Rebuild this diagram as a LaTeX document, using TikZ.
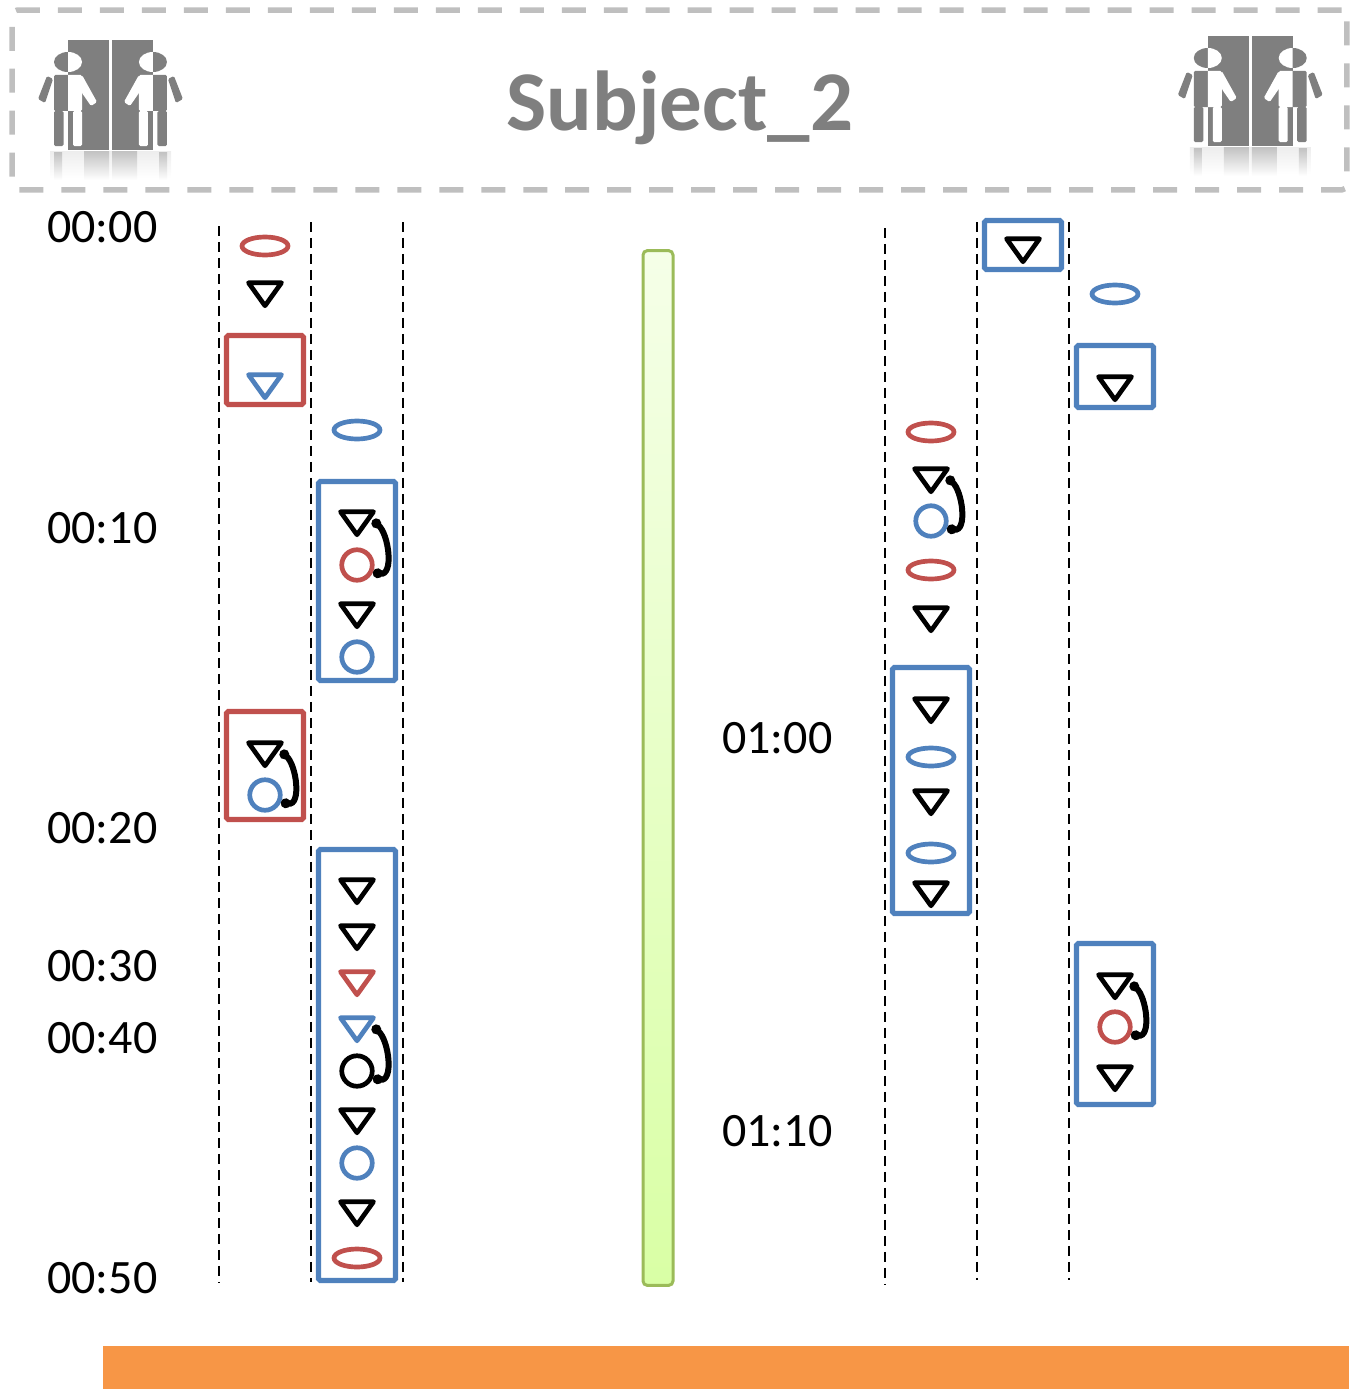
\documentclass[tikz,border=0pt]{standalone}
\usepackage{fontspec}
\setmainfont{Carlito}
\usepackage{tikz}
\usetikzlibrary{shapes.geometric,arrows.meta}
\definecolor{markred}{HTML}{C0504D}
\definecolor{markblue}{HTML}{4F81BD}
\definecolor{iconcolor}{HTML}{7F7F7F}
\definecolor{barorange}{HTML}{F79646}
\definecolor{bargreen}{HTML}{9BBB59}
\def\pxu{0.56906pt}
\tikzset{
         tri/.style=
          {
           shape=isosceles triangle,
           shape border rotate=-90,
           isosceles triangle stretches,
           draw=black,
           line width=4.7*\pxu,
           line join=round,
           inner sep=0pt,
           yshift=1pt,
           minimum width=33*\pxu,
           minimum height=23*\pxu
          },
         ring/.style={circle,draw=black,line width=4.7*\pxu,inner sep=0pt,minimum size=30.5*\pxu},
         oval/.style={ellipse,draw=black,line width=4.7*\pxu,inner sep=0pt,minimum width=46*\pxu,minimum height=18*\pxu},
         redbox/.style={rectangle,draw=markred,line width=5.2*\pxu,rounded corners=1pt,inner sep=0pt},
         bluebox/.style={rectangle,draw=markblue,line width=5.2*\pxu,rounded corners=1pt,inner sep=0pt},
         lane/.style={draw=black,line width=2.7*\pxu,dash pattern=on 10*\pxu off 6*\pxu},
         backloop/.style={draw=black,line width=6*\pxu,{Circle[length=5.5pt]}-{Circle[length=5.5pt]}},
         timelabel/.style={anchor=west,inner sep=0pt,font=\fontsize{27.3pt}{30pt}\selectfont},
         iconglow/.style={top color=black!24,bottom color=white,draw=none},
         iconhaze/.style={top color=black!7,bottom color=white,draw=none}
        }
\newcommand{\figpath}{(68,62) ellipse [x radius=14,y radius=10]
  (54,75) rectangle (82,111) (54,111) rectangle (63.5,146) (73,111) rectangle (82,146)
  (47,76) -- (53,79) -- (45,103) -- (38,99) -- cycle
  (82,75) -- (97,102) -- (91,106) -- (82,93) -- cycle}
\newcommand{\onefigure}{%
  \fill[iconcolor] (68,40) rectangle (109,150);
  \fill[iconcolor,rounded corners=0.8pt] \figpath;
  \begin{scope}
  \clip (68,40) rectangle (109,150);
  \fill[white,rounded corners=0.8pt] \figpath;
  \end{scope}}
\newcommand{\restroom}{%
  \onefigure
  \begin{scope}[xshift=4.42cm,xscale=-1]
  \onefigure
  \end{scope}
  \shade[iconhaze] (50,151) rectangle (171,178);
  \shade[iconglow] (54,152) rectangle (62,180);
  \shade[iconglow] (84,151) rectangle (109,180);
  \shade[iconglow] (112,151) rectangle (137,180);
  \shade[iconglow] (159,152) rectangle (167,180);}

\begin{document}
\begin{tikzpicture}[x=0.02cm,y=-0.02cm]
\useasboundingbox (0,0) rectangle (1349,1389);
\restroom % left icon
\begin{scope}[xshift=22.8cm,yshift=0.08cm]
\restroom % right icon
\end{scope}
\node[draw=black!25,line width=5.5*\pxu,dash pattern=on 24*\pxu off 18*\pxu,rounded corners=3pt,inner sep=0pt,minimum width=1335*\pxu,minimum height=180*\pxu] (header) at (679.5,100) {}; % header box
\node[text=iconcolor,font=\fontsize{48.4pt}{52pt}\selectfont\bfseries] (title) at (680,108) {Subject\_2}; % title
\node[fill=barorange,inner sep=0pt,minimum width=1246*\pxu,minimum height=43*\pxu] (bottombar) at (726,1367.5) {}; % orange bar
\node[draw=bargreen,line width=3*\pxu,top color={rgb,255:red,245;green,255;blue,232},bottom color={rgb,255:red,217;green,255;blue,165},rounded corners=2.5pt,inner sep=0pt,minimum width=30*\pxu,minimum height=1035*\pxu] (centerbar) at (658,768) {}; % green bar
% time labels
\node[timelabel] (t00) at (47,227) {00:00};
\node[timelabel] (t10) at (47,528) {00:10};
\node[timelabel] (t20) at (47,828) {00:20};
\node[timelabel] (t30) at (47,966) {00:30};
\node[timelabel] (t40) at (47,1038) {00:40};
\node[timelabel] (t50) at (47,1278) {00:50};
\node[timelabel] (t60) at (722,738) {01:00};
\node[timelabel] (t70) at (722,1131) {01:10};
% lanes
\foreach \n/\x/\ya/\yb in {a/219/226/1282,b/311/222/1282,c/403/222/1282,d/885/228/1284,e/977/222/1280,f/1069/222/1280}
 {
  \coordinate (top\n) at (\x,\ya);
  \coordinate (bot\n) at (\x,\yb);
  \draw[lane] (top\n) -- (bot\n);
 }
% boxes
\node[redbox,fill=white,minimum width=77*\pxu,minimum height=69*\pxu] (boxa) at (265,370) {};
\node[redbox,fill=white,minimum width=77*\pxu,minimum height=108*\pxu] (boxb) at (265,765.5) {};
\node[bluebox,fill=white,minimum width=77*\pxu,minimum height=199*\pxu] (boxc) at (357,581) {};
\node[bluebox,fill=white,minimum width=77*\pxu,minimum height=431*\pxu] (boxd) at (357,1065) {};
\node[bluebox,fill=white,minimum width=77*\pxu,minimum height=49*\pxu] (boxe) at (1023,245) {};
\node[bluebox,fill=white,minimum width=77*\pxu,minimum height=62*\pxu] (boxf) at (1115,376.5) {};
\node[bluebox,fill=white,minimum width=77*\pxu,minimum height=246*\pxu] (boxg) at (931,790.5) {};
\node[bluebox,fill=white,minimum width=77*\pxu,minimum height=161*\pxu] (boxh) at (1115,1024) {};
% first lane
\node[oval,draw=markred] (a1) at (265,246) {};
\node[tri] (a2) at (265,293) {};
\node[tri,draw=markblue] (a3) at (265,385) {};
\node[tri] (a4) at (265,753) {};
\node[ring,draw=markblue] (a5) at (265,795) {};
% second lane
\node[oval,draw=markblue] (b1) at (357,430) {};
\node[tri] (b2) at (357,522) {};
\node[ring,draw=markred] (b3) at (357,565) {};
\node[tri] (b4) at (357,614) {};
\node[ring,draw=markblue] (b5) at (357,657) {};
\node[tri] (b6) at (357,890) {};
\node[tri] (b7) at (357,936) {};
\node[tri,draw=markred] (b8) at (357,982) {};
\node[tri,draw=markblue] (b9) at (357,1028) {};
\node[ring] (b10) at (357,1071) {};
\node[tri] (b11) at (357,1120) {};
\node[ring,draw=markblue] (b12) at (357,1163) {};
\node[tri] (b13) at (357,1212) {};
\node[oval,draw=markred] (b14) at (357,1258) {};
% third lane
\node[oval,draw=markred] (d1) at (931,432) {};
\node[tri] (d2) at (931,479) {};
\node[ring,draw=markblue] (d3) at (931,521) {};
\node[oval,draw=markred] (d4) at (931,570) {};
\node[tri] (d5) at (931,618) {};
\node[tri] (d6) at (931,709) {};
\node[oval,draw=markblue] (d7) at (931,757) {};
\node[tri] (d8) at (931,801) {};
\node[oval,draw=markblue] (d9) at (931,853) {};
\node[tri] (d10) at (931,893) {};
% fourth and fifth lane
\node[tri] (e1) at (1023,249) {};
\node[oval,draw=markblue] (f1) at (1115,294) {};
\node[tri] (f2) at (1115,387) {};
\node[tri] (f3) at (1115,985) {};
\node[ring,draw=markred] (f4) at (1115,1027) {};
\node[tri] (f5) at (1115,1077) {};
% loops
\draw[backloop] ([xshift=1pt]a4.east) to[out=-40,in=-10,looseness=1.05] (a5.-25);
\draw[backloop] ([xshift=1pt]b2.east) to[out=-40,in=-10,looseness=1.05] (b3.-25);
\draw[backloop] ([xshift=1pt]b9.east) to[out=-40,in=-10,looseness=1.05] (b10.-25);
\draw[backloop] ([xshift=1pt]d2.east) to[out=-40,in=-10,looseness=1.05] (d3.-25);
\draw[backloop] ([xshift=1pt]f3.east) to[out=-40,in=-10,looseness=1.05] (f4.-25);
\end{tikzpicture}
\end{document}
